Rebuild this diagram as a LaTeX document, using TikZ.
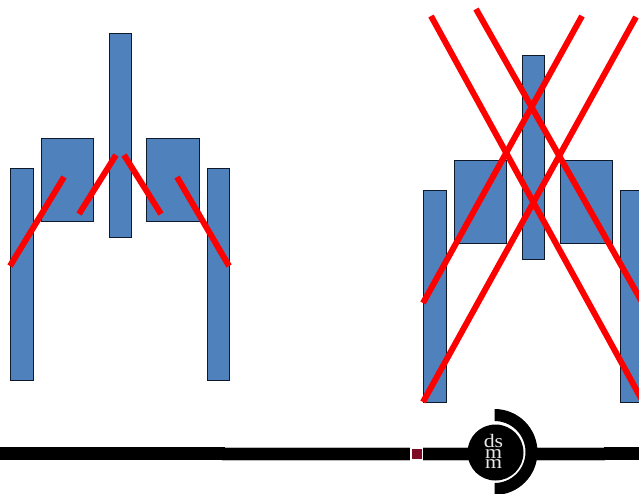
\documentclass[tikz,border=0pt]{standalone}
\usepackage{fontspec}
\setmainfont{Liberation Serif}
\newfontfamily\logofont[FakeStretch=1.15]{Liberation Serif}
\definecolor{barblue}{HTML}{4F81BD}
\definecolor{barline}{HTML}{0E1A2A}
\definecolor{maroon}{HTML}{7F0A26}
\definecolor{edgegray}{HTML}{B8B8B8}
\definecolor{logowhite}{HTML}{E8E8E8}
\tikzset{
  bluebar/.style={draw=barline,fill=barblue,line width=1pt},
  crossline/.style={draw=red,line width=6pt},
  logotext/.style={text=logowhite,font=\logofont\fontsize{19}{19}\selectfont,inner sep=0pt,anchor=base}
}
\begin{document}
\begin{tikzpicture}[x=1pt,y=-1pt]
\useasboundingbox (0,0) rectangle (639,493);
% left figure
\draw[bluebar] (10.5,168.5) rectangle (33,380.5);
\draw[bluebar] (207,168.5) rectangle (229.5,380.5);
\draw[bluebar] (41,138.5) rectangle (93.5,221.5);
\draw[bluebar] (146.5,138.5) rectangle (199,221.5);
\draw[bluebar] (109,33) rectangle (131.5,237);
\coordinate (a1) at (10,266); \coordinate (a2) at (64,177);
\coordinate (b1) at (79,214); \coordinate (b2) at (116,155);
\coordinate (c1) at (124,155); \coordinate (c2) at (161,214);
\coordinate (d1) at (177,177); \coordinate (d2) at (229,266);
\draw[crossline] (a1) -- (a2);
\draw[crossline] (b1) -- (b2);
\draw[crossline] (c1) -- (c2);
\draw[crossline] (d1) -- (d2);
% right figure
\draw[bluebar] (423.5,190.5) rectangle (446.5,402.5);
\draw[bluebar] (620.5,190.5) rectangle (643,402.5);
\draw[bluebar] (454,160.5) rectangle (506.5,243.5);
\draw[bluebar] (560,160.5) rectangle (612.5,243.5);
\draw[bluebar] (522,55) rectangle (544.5,259);
\coordinate (e1) at (423,303); \coordinate (e2) at (582,16);
\coordinate (f1) at (423,402); \coordinate (f2) at (636,17);
\coordinate (g1) at (431,16); \coordinate (g2) at (642,400);
\coordinate (h1) at (476,9); \coordinate (h2) at (642,302);
\draw[crossline] (e1) -- (e2);
\draw[crossline] (f1) -- (f2);
\draw[crossline] (g1) -- (g2);
\draw[crossline] (h1) -- (h2);
% footer
\fill[edgegray] (222,446.5) rectangle (410,460.5);
\fill[edgegray] (422.5,446.5) rectangle (605,460.5);
\fill[black] (0,447) rectangle (225,460);
\fill[black] (225,447.5) rectangle (409.5,459.5);
\fill[black] (423,447.5) rectangle (605,459.5);
\fill[black] (604,447) rectangle (639,460);
\fill[maroon] (411.5,448.5) rectangle (421.5,458.5);
\fill[white] (494.5,420) arc[start angle=-90,end angle=90,radius=32] -- cycle;
\fill[black] (494.5,409) arc[start angle=-90,end angle=90,radius=43]
  -- (494.5,483) arc[start angle=90,end angle=-90,radius=31] -- cycle;
\node[circle,fill=black,minimum size=56pt,inner sep=0pt] (seal) at (495.5,452.5) {};
\node[logotext] (ds) at (493.5,447.5) {ds};
\node[logotext] (m1) at (493.5,458) {m};
\node[logotext] (m2) at (493.5,468) {m};
\end{tikzpicture}
\end{document}
